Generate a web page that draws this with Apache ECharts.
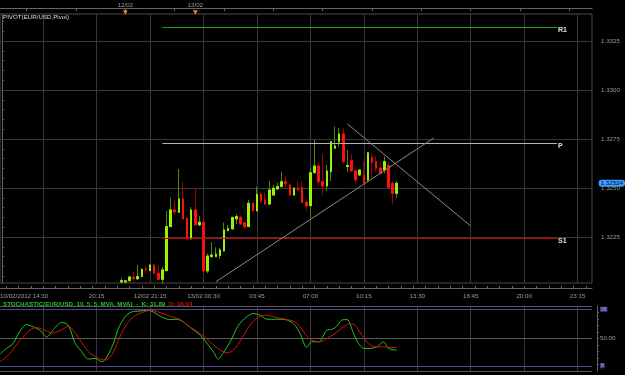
<!DOCTYPE html>
<html>
<head>
<meta charset="utf-8">
<script src="https://cdn.jsdelivr.net/npm/echarts@6/dist/echarts.min.js"></script>
<style>
  html, body { margin: 0; background: #000; }
  #chart { width: 625px; height: 375px; }
</style>
</head>
<body>
<div id="chart"></div>
<script>
// x positions are 15 min candle slots, 0..143 across the plot
const slotMin = -0.5
const slotMax = 143.5
const timeTickSlots = [10, 23, 36, 49, 62, 75, 88, 101, 114, 127, 140]
const timeTickText = ['10/02/2012 14:30', '20:15', '12/02 21:15', '13/02 00:30', '03:45', '07:00', '10:15', '13:30', '16:45', '20:00', '23:15']
const daySlots = [30, 47]
const dayText = ['12/02', '13/02']
const priceMin = 1.32015
const priceMax = 1.33388
const priceTicks = [1.3225, 1.325, 1.3275, 1.33, 1.3325]

// EUR/USD 15m candles, [open, close, low, high], first one at slot 29
const firstCandleSlot = 29
const candles = [
  [1.32020, 1.32027, 1.32015, 1.32041], [1.32020, 1.32026, 1.32018, 1.32028],
  [1.32027, 1.32046, 1.32022, 1.32048], [1.32044, 1.32037, 1.32027, 1.32072],
  [1.32036, 1.32048, 1.32034, 1.32107], [1.32048, 1.32085, 1.32044, 1.32090],
  [1.32088, 1.32082, 1.32065, 1.32102], [1.32078, 1.32106, 1.32077, 1.32112],
  [1.32106, 1.32065, 1.32061, 1.32112], [1.32065, 1.32034, 1.32031, 1.32106],
  [1.32034, 1.32082, 1.32010, 1.32097], [1.32078, 1.32303, 1.32077, 1.32383],
  [1.32303, 1.32388, 1.32301, 1.32450], [1.32388, 1.32378, 1.32362, 1.32434],
  [1.32376, 1.32444, 1.32372, 1.32597], [1.32444, 1.32342, 1.32340, 1.32532],
  [1.32345, 1.32240, 1.32235, 1.32354], [1.32240, 1.32388, 1.32235, 1.32403],
  [1.32388, 1.32311, 1.32310, 1.32500], [1.32311, 1.32325, 1.32306, 1.32357],
  [1.32325, 1.32077, 1.32077, 1.32328], [1.32077, 1.32153, 1.32065, 1.32165],
  [1.32150, 1.32158, 1.32143, 1.32223], [1.32150, 1.32162, 1.32147, 1.32197],
  [1.32156, 1.32184, 1.32138, 1.32195], [1.32179, 1.32286, 1.32175, 1.32323],
  [1.32282, 1.32294, 1.32281, 1.32311], [1.32291, 1.32349, 1.32289, 1.32354],
  [1.32342, 1.32354, 1.32315, 1.32366], [1.32351, 1.32316, 1.32313, 1.32354],
  [1.32323, 1.32303, 1.32291, 1.32325], [1.32303, 1.32422, 1.32301, 1.32439],
  [1.32422, 1.32384, 1.32379, 1.32425], [1.32384, 1.32468, 1.32379, 1.32507],
  [1.32468, 1.32434, 1.32422, 1.32481], [1.32439, 1.32418, 1.32413, 1.32476],
  [1.32418, 1.32490, 1.32413, 1.32536], [1.32464, 1.32499, 1.32459, 1.32515],
  [1.32495, 1.32507, 1.32490, 1.32527], [1.32507, 1.32532, 1.32504, 1.32583],
  [1.32532, 1.32524, 1.32499, 1.32561], [1.32515, 1.32464, 1.32459, 1.32519],
  [1.32464, 1.32499, 1.32460, 1.32504], [1.32499, 1.32490, 1.32481, 1.32536],
  [1.32502, 1.32425, 1.32425, 1.32531], [1.32427, 1.32408, 1.32383, 1.32435],
  [1.32410, 1.32578, 1.32346, 1.32606], [1.32578, 1.32612, 1.32575, 1.32745],
  [1.32612, 1.32532, 1.32507, 1.32634], [1.32532, 1.32510, 1.32464, 1.32672],
  [1.32510, 1.32587, 1.32485, 1.32617], [1.32583, 1.32736, 1.32536, 1.32736],
  [1.32703, 1.32714, 1.32703, 1.32813], [1.32736, 1.32776, 1.32710, 1.32805],
  [1.32776, 1.32634, 1.32626, 1.32805], [1.32609, 1.32614, 1.32583, 1.32694],
  [1.32639, 1.32588, 1.32582, 1.32673], [1.32588, 1.32541, 1.32527, 1.32592],
  [1.32566, 1.32592, 1.32563, 1.32592], [1.32566, 1.32524, 1.32515, 1.32634],
  [1.32541, 1.32680, 1.32532, 1.32680], [1.32655, 1.32631, 1.32550, 1.32680],
  [1.32634, 1.32601, 1.32583, 1.32660], [1.32601, 1.32575, 1.32566, 1.32634],
  [1.32592, 1.32634, 1.32575, 1.32660], [1.32614, 1.32502, 1.32499, 1.32631],
  [1.32524, 1.32473, 1.32417, 1.32532], [1.32473, 1.32524, 1.32448, 1.32532]
]

// pivot levels, drawn from slot 39 to 135
const pivotR1 = 1.3332
const pivotP = 1.32728
const pivotS1 = 1.32243
const pivotFrom = 39
const pivotTo = 135

// hand drawn trend lines [slot, price]
const trendUp = [[52, 1.32021], [105, 1.32755]]
const trendDown = [[84, 1.32827], [114, 1.32306]]

// stochastic %K and %D, [slot, value]
const stochK = [
  [-0.5, 26], [1.1, 34.8], [2.7, 42.4], [4, 57.7], [6, 71.5], [7.6, 67.8], [9.2, 62.8], [10.9, 52.5],
  [12.5, 63.9], [14.5, 74.6], [16.1, 70.4], [17.8, 42.4], [19.4, 29.6], [21, 18.4], [22.6, 19.4],
  [24.3, 14.2], [25.5, 21.9], [27.1, 42.4], [28.3, 65.4], [29.9, 83.2], [31.5, 90.8], [33.6, 92.3],
  [35.2, 93.4], [36.8, 90.8], [38.8, 83.2], [40.9, 79.2], [42.5, 79.6], [44.1, 75.5], [46.1, 65.4],
  [48.2, 55.1], [50.2, 39.8], [51.4, 29.6], [52.6, 18.4], [53.8, 28], [55.5, 44.9], [57.5, 70.4],
  [59.5, 83.2], [61.1, 88.4], [62.8, 85.8], [64.4, 79.6], [66.8, 79.6], [68.8, 79.2], [70.9, 73],
  [72.5, 57.7], [74.1, 36.3], [75.3, 44.9], [77, 44.9], [79, 62.8], [80.2, 63.9], [81.4, 68.9],
  [82.6, 78.1], [83.9, 79.2], [85.5, 57.7], [86.7, 42.4], [88.1, 34.8], [89.5, 34.8], [91.2, 37.2],
  [92.8, 44.9], [94, 34.8], [96, 31.89]
]
const stochD = [
  [-0.5, 14.2], [1.9, 27.1], [4.4, 47.5], [6.8, 62.8], [8.4, 66.9], [10, 63.9], [12.1, 58.7],
  [14.1, 61.7], [16.1, 68.9], [17.3, 62.8], [19, 47.5], [21, 29.6], [23, 21], [25.1, 16.8],
  [26.7, 24.5], [28.3, 47.5], [29.9, 67.8], [31.9, 83.2], [34.4, 90.8], [36.4, 93.4], [38.4, 89.9],
  [40.9, 84.2], [43.3, 79.2], [45.7, 67.8], [48.2, 57.7], [50.6, 44.9], [53, 32.2], [54.7, 28],
  [56.3, 32.2], [58.3, 50.1], [60.3, 70.4], [62.4, 83.2], [64.4, 85.8], [66.8, 82.2], [69.3, 79.2],
  [71.3, 75.5], [72.5, 67.8], [74.1, 53.6], [75.7, 46.4], [77.4, 44.9], [79, 50.1], [81, 57.7],
  [83, 67.8], [84.7, 73], [85.9, 70.4], [87.5, 55.1], [89.1, 42.4], [90.7, 37.2], [92.8, 37.2],
  [94.4, 36.3], [96, 36.04]
]
const stochLevels = [95, 8]
const stochGrid = [0, 50, 100]

const font = 'Liberation Sans'
const fs = 6.2
const gridColor = '#383838'
const axisColor = '#666'
const labelColor = '#9a9a9a'

const candleData = candles.map((c, i) => [firstCandleSlot + i].concat(c))
const bodyData = candles.map((c, i) => [firstCandleSlot + i, c[0], c[1], Math.min(c[0], c[1]), Math.max(c[0], c[1])])
const lastClose = candles[candles.length - 1][1]
const lastK = stochK[stochK.length - 1][1]
const lastD = stochD[stochD.length - 1][1]

// tick marks only (no data)
const bottomTicks = []
for (let s = 1; s < 144; s += 3) bottomTicks.push(s)
const topTicks = []
for (let s = 6; s < 144; s += 12) topTicks.push(s)
const priceMinor = []
for (let p = 1.3205; p < 1.3338; p += 0.0005) priceMinor.push(+p.toFixed(4))
const stochMinor = []
for (let v = 0; v <= 100; v += 10) stochMinor.push(v)

function segment(a, b, color, label) {
  return [
    { coord: a, lineStyle: { color: color, width: 1, type: 'solid' }, label: label || { show: false } },
    { coord: b }
  ]
}
function pivotLine(val, color, name) {
  return segment([pivotFrom, val], [pivotTo, val], color, {
    show: true, formatter: name, position: 'end', distance: 1, offset: [0, 3],
    color: '#e0e0e0', fontSize: 7, fontWeight: 'bold', fontFamily: font
  })
}
function gridSeries(xi, yi, xs, ys, yColor) {
  return {
    type: 'line', xAxisIndex: xi, yAxisIndex: yi, data: [], z: 1, silent: true,
    markLine: {
      silent: true, symbol: 'none', z: 1, label: { show: false },
      lineStyle: { color: gridColor, width: 1, type: 'solid' },
      data: xs.map(s => ({ xAxis: s }))
        .concat(ys.map(v => segment([slotMin, v], [slotMax, v], yColor)))
    }
  }
}

const chart = echarts.init(document.getElementById('chart'))
chart.setOption({
  backgroundColor: '#000',
  animation: false,
  textStyle: { fontFamily: font },
  axisPointer: { triggerOn: 'none' },
  title: [
    { text: 'PIVOT(EUR/USD,Pivot)', left: 3, top: 14, padding: 0,
      textStyle: { color: '#dcdcdc', fontSize: fs, fontWeight: 'normal', fontFamily: font } },
    { text: '{g|STOCHASTIC(EUR/USD, 10, 5, 5, MVA, MVA)  -  K: ' + lastK.toFixed(2) + '}  {r|D: ' + lastD.toFixed(2) + '}',
      left: 3, top: 301, padding: 0,
      textStyle: { fontSize: fs, rich: {
        g: { color: '#22c422', fontSize: fs, fontFamily: font },
        r: { color: '#d01010', fontSize: fs, fontFamily: font }
      } } }
  ],
  grid: [
    { left: 0, right: 33, top: 14, height: 269, show: true, borderColor: '#4a4a4a', borderWidth: 1,
      containLabel: false, outerBoundsMode: 'none' },
    { left: 0, right: 33, top: 306, height: 65, containLabel: false, outerBoundsMode: 'none' }
  ],
  xAxis: [
    // 0: price panel
    { type: 'value', gridIndex: 0, min: slotMin, max: slotMax,
      axisLine: { show: false }, axisLabel: { show: false }, axisTick: { show: false }, splitLine: { show: false } },
    // 1: bottom time axis
    { type: 'value', gridIndex: 0, min: slotMin, max: slotMax, position: 'bottom', offset: 5,
      axisLine: { show: true, lineStyle: { color: axisColor } },
      axisTick: { show: true, inside: true, length: 2, customValues: bottomTicks, lineStyle: { color: axisColor } },
      splitLine: { show: false },
      axisLabel: { show: true, customValues: timeTickSlots, margin: 5, color: labelColor, fontSize: fs,
        formatter: v => {
          const i = timeTickSlots.indexOf(Math.round(v))
          return i === 0 ? '{first|' + timeTickText[0] + '}' : timeTickText[i]
        },
        rich: { first: { color: labelColor, fontSize: fs, fontFamily: font, padding: [0, 38, 0, 0] } } } },
    // 2: top day axis
    { type: 'value', gridIndex: 0, min: slotMin, max: slotMax, position: 'top', offset: 6,
      axisLine: { show: true, lineStyle: { color: axisColor } },
      axisTick: { show: true, inside: true, length: 3, customValues: topTicks, lineStyle: { color: axisColor } },
      splitLine: { show: false },
      axisLabel: { show: true, customValues: daySlots, margin: -7, color: labelColor, fontSize: fs, lineHeight: 7,
        formatter: v => dayText[daySlots.indexOf(Math.round(v))] + '\n{t|▼}',
        rich: { t: { color: '#d89a10', fontSize: 6, lineHeight: 6, fontFamily: 'DejaVu Sans' } } } },
    // 3: stochastic panel
    { type: 'value', gridIndex: 1, min: slotMin, max: slotMax,
      axisLine: { show: false }, axisLabel: { show: false }, axisTick: { show: false }, splitLine: { show: false } }
  ],
  yAxis: [
    // 0: price panel
    { type: 'value', gridIndex: 0, min: priceMin, max: priceMax, position: 'right',
      axisLine: { show: false }, axisLabel: { show: false }, axisTick: { show: false }, splitLine: { show: false } },
    // 1: price scale
    { type: 'value', gridIndex: 0, min: priceMin, max: priceMax, position: 'right', offset: 6,
      axisLine: { show: true, lineStyle: { color: axisColor } },
      axisTick: { show: true, length: 2, customValues: priceMinor, lineStyle: { color: axisColor } },
      splitLine: { show: false },
      axisLabel: { show: true, customValues: priceTicks, margin: 3, color: labelColor, fontSize: fs,
        formatter: v => v.toFixed(4) },
      axisPointer: { show: true, type: 'line', value: lastClose, status: 'show', triggerTooltip: false,
        lineStyle: { opacity: 0 },
        label: { show: true, formatter: p => p.value.toFixed(5), backgroundColor: '#3d9dff', color: '#001030',
          fontSize: fs, padding: [1, 2, 0, 2], margin: 1, fontFamily: font } } },
    // 2: stochastic panel
    { type: 'value', gridIndex: 1, min: 0, max: 100, position: 'right',
      axisLine: { show: false }, axisLabel: { show: false }, axisTick: { show: false }, splitLine: { show: false } },
    // 3: stochastic scale
    { type: 'value', gridIndex: 1, min: 0, max: 100, position: 'right', offset: 5,
      axisLine: { show: true, lineStyle: { color: axisColor } },
      axisTick: { show: true, length: 2, customValues: stochMinor, lineStyle: { color: axisColor } },
      splitLine: { show: false },
      axisLabel: { show: true, customValues: [0, stochLevels[1], 50, stochLevels[0], 100], margin: 3,
        color: labelColor, fontSize: fs,
        formatter: v => {
          if (v === 100) return '{w|100}'
          if (v === 50) return '50.00'
          if (v === 0) return '{w|0}'
          return '{b|' + v + '}'
        },
        rich: {
          w: { color: '#cfcfcf', fontSize: fs, borderColor: '#bbb', borderWidth: 1, padding: [0, 1] },
          b: { color: '#b0b0ff', fontSize: 5, backgroundColor: '#3a3a86', padding: [0, 1] }
        } } }
  ],
  series: [
    gridSeries(0, 0, timeTickSlots, priceTicks, gridColor),
    gridSeries(3, 2, timeTickSlots, stochGrid, '#5a5a5a'),
    {
      name: 'wick', type: 'candlestick', xAxisIndex: 0, yAxisIndex: 0, z: 2,
      barWidth: 2, data: candleData,
      itemStyle: { color: '#4d8a00', color0: '#a00000', borderColor: '#4d8a00', borderColor0: '#a00000', borderWidth: 1 },
      markLine: {
        silent: true, symbol: 'none',
        data: [
          pivotLine(pivotR1, '#1fa01f', 'R1'),
          pivotLine(pivotP, '#b4b4b4', 'P'),
          pivotLine(pivotS1, '#cc0000', 'S1'),
          segment(trendUp[0], trendUp[1], '#8a8a8a'),
          segment(trendDown[0], trendDown[1], '#8a8a8a')
        ]
      }
    },
    {
      name: 'body', type: 'candlestick', xAxisIndex: 0, yAxisIndex: 0, z: 3,
      barWidth: 2, data: bodyData,
      itemStyle: { color: '#9df200', color0: '#ff1010', borderColor: '#9df200', borderColor0: '#ff1010', borderWidth: 1 }
    },
    {
      name: 'K', type: 'line', xAxisIndex: 3, yAxisIndex: 2, data: stochK, z: 3,
      symbol: 'none', smooth: 0.3, lineStyle: { color: '#1ec81e', width: 1 },
      markLine: {
        silent: true, symbol: 'none', label: { show: false },
        data: stochLevels.map(v => segment([slotMin, v], [slotMax, v], '#4a4a8a'))
      }
    },
    {
      name: 'D', type: 'line', xAxisIndex: 3, yAxisIndex: 2, data: stochD, z: 3,
      symbol: 'none', smooth: 0.3, lineStyle: { color: '#d41010', width: 1 }
    }
  ]
})
</script>
</body>
</html>
